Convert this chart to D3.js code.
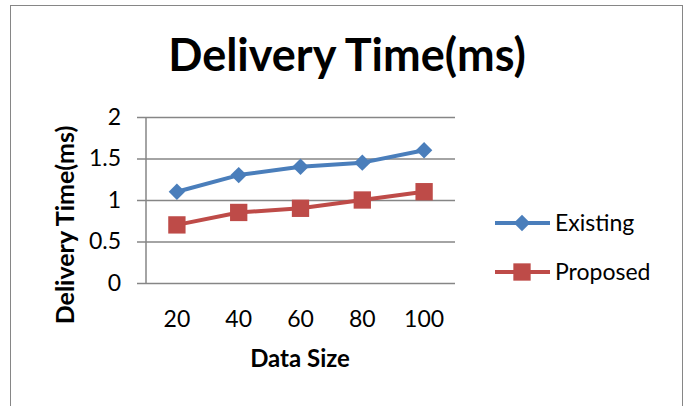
<!DOCTYPE html>
<html>
<head>
<meta charset="utf-8">
<script src="https://cdn.jsdelivr.net/npm/d3@7"></script>
<style>
  html, body { margin: 0; padding: 0; background: #fff; }
  svg { display: block; }
  text { font-family: Lato, "Open Sans", sans-serif; fill: #000; }
</style>
</head>
<body>
<svg id="chart" width="689" height="406"></svg>
<script>
// Chart data
const dataSizes = [20, 40, 60, 80, 100];
const existing = [1.1, 1.3, 1.4, 1.45, 1.6];
const proposed = [0.7, 0.85, 0.9, 1.0, 1.1];
const yTicks = [0, 0.5, 1, 1.5, 2];
const seriesNames = ["Existing", "Proposed"];

const plot = { left: 146, right: 455, top: 117, bottom: 283 };

const svg = d3.select("#chart");

// Outer chart frame
svg.append("rect")
  .attr("x", 10.5).attr("y", 5.5)
  .attr("width", 672).attr("height", 420)
  .attr("fill", "#fff")
  .attr("stroke", "#868686").attr("stroke-width", 1);

const x = d3.scaleBand().domain(dataSizes).range([plot.left, plot.right]).padding(0);
const y = d3.scaleLinear().domain([0, 2]).range([plot.bottom, plot.top]);

// Horizontal gridlines with left tick marks
const yAxis = d3.axisLeft(y)
  .tickValues(yTicks)
  .tickSize(-(plot.right - plot.left))
  .tickPadding(25)
  .tickFormat(d => d3.format("")(d));
const gy = svg.append("g").attr("transform", `translate(${plot.left},0)`).call(yAxis);
gy.select(".domain").remove();
gy.selectAll(".tick line")
  .attr("x1", -9)
  .attr("stroke", "#868686").attr("stroke-width", 1.5);
gy.selectAll(".tick text")
  .attr("font-size", 23).attr("font-family", "Lato, sans-serif")
  .attr("fill", "#000");

// Vertical axis line
svg.append("line")
  .attr("x1", plot.left).attr("x2", plot.left)
  .attr("y1", plot.top).attr("y2", plot.bottom)
  .attr("stroke", "#868686").attr("stroke-width", 1.5);

// Category labels under the plot
const xAxis = d3.axisBottom(x).tickSize(0).tickPadding(0);
const gx = svg.append("g").attr("transform", `translate(0,${plot.bottom})`).call(xAxis);
gx.select(".domain").remove();
gx.selectAll(".tick text")
  .attr("font-size", 23).attr("font-family", "Lato, sans-serif")
  .attr("fill", "#000")
  .attr("dy", 0).attr("y", 44);

// Titles
svg.append("text")
  .attr("x", 347).attr("y", 71)
  .attr("text-anchor", "middle")
  .attr("font-size", 45).attr("font-weight", "bold")
  .text("Delivery Time(ms)");

svg.append("text")
  .attr("x", 300).attr("y", 367)
  .attr("text-anchor", "middle")
  .attr("font-size", 24).attr("font-weight", "bold")
  .text("Data Size");

svg.append("text")
  .attr("transform", "translate(74,225) rotate(-90)")
  .attr("text-anchor", "middle")
  .attr("font-size", 25).attr("font-weight", "bold")
  .text("Delivery Time(ms)");

// Series: diamonds are squares turned 45 degrees
const series = [
  { name: seriesNames[0], values: existing, color: "#4a7ebb", shape: d3.symbolSquare, size: 135, rot: 45 },
  { name: seriesNames[1], values: proposed, color: "#be4b48", shape: d3.symbolSquare, size: 300, rot: 0 }
];

const cx = d => x(d) + x.bandwidth() / 2;
const line = d3.line().x(d => cx(d[0])).y(d => y(d[1]));

series.forEach(s => {
  const pts = dataSizes.map((d, i) => [d, s.values[i]]);
  svg.append("path")
    .attr("d", line(pts))
    .attr("fill", "none")
    .attr("stroke", s.color).attr("stroke-width", 4)
    .attr("stroke-linejoin", "round");
  svg.selectAll(null).data(pts).enter().append("path")
    .attr("d", d3.symbol().type(s.shape).size(s.size))
    .attr("transform", d => `translate(${cx(d[0])},${y(d[1])}) rotate(${s.rot})`)
    .attr("fill", s.color);
});

// Legend
const legend = svg.append("g");
const legendY = [223, 272];
series.forEach((s, i) => {
  const g = legend.append("g").attr("transform", `translate(0,${legendY[i]})`);
  g.append("line").attr("x1", 495).attr("x2", 550)
    .attr("stroke", s.color).attr("stroke-width", 4);
  g.append("path")
    .attr("d", d3.symbol().type(s.shape).size(s.size))
    .attr("transform", `translate(522,0) rotate(${s.rot})`)
    .attr("fill", s.color);
  g.append("text").attr("x", 555).attr("y", 0).attr("dy", "0.35em")
    .attr("font-size", 23).text(s.name);
});
</script>
</body>
</html>
